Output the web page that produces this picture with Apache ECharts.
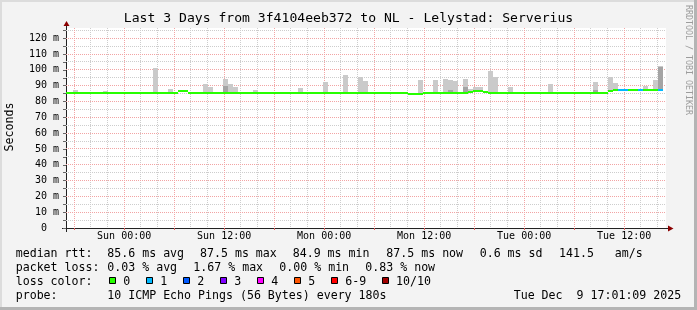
<!DOCTYPE html>
<html><head><meta charset="utf-8">
<script src="https://cdn.jsdelivr.net/npm/echarts@6/dist/echarts.min.js"></script>
<style>html,body{margin:0;padding:0;background:#f3f3f3}#c{width:697px;height:310px}</style>
</head><body><div id="c"></div>
<script>
// ---------------- data ----------------
const TITLE = 'Last 3 Days from 3f4104eeb372 to NL - Lelystad: Serverius';
const Y_NAME = 'Seconds';
const CREDIT = 'RRDTOOL / TOBI OETIKER';
// x axis in hours relative to Sun 00:00
const X_MIN = -6.98, X_MAX = 65.02;
const Y_MIN = 0, Y_MAX = 126.5;           // ms
const SLOT_HOURS = 0.6;                    // one consolidated sample = 36 min
const FIRST_SLOT_CENTER = -7.04;

const X_LABEL_HOURS = [0, 12, 24, 36, 48, 60];
const X_LABEL_TEXTS = ['Sun 00:00', 'Sun 12:00', 'Mon 00:00', 'Mon 12:00', 'Tue 00:00', 'Tue 12:00'];
const X_MAJOR_GRID = [-6, 0, 6, 12, 18, 24, 30, 36, 42, 48, 54, 60];
const X_MINOR_GRID = [-4, -2, 2, 4, 8, 10, 14, 16, 20, 22, 26, 28, 32, 34, 38, 40, 44, 46, 50, 52, 56, 58, 62, 64];
const Y_LABEL_VALUES = [0, 10, 20, 30, 40, 50, 60, 70, 80, 90, 100, 110, 120];
const Y_MAJOR_GRID = [10, 20, 30, 40, 50, 60, 70, 80, 90, 100, 110, 120];
const Y_MINOR_GRID = [5, 15, 25, 35, 45, 55, 65, 75, 85, 95, 105, 115, 125];
const Y_TICKS = [0, 5, 10, 15, 20, 25, 30, 35, 40, 45, 50, 55, 60, 65, 70, 75, 80, 85, 90, 95, 100, 105, 110, 115, 120, 125];

// median rtt per slot (ms)
const medianMs = [
  85.6, 85.6, 85.6, 85.6, 85.6, 85.6, 85.6, 85.6, 85.6, 85.6,
  85.6, 85.6, 85.6, 85.6, 85.6, 85.6, 85.6, 85.6, 85.6, 85.6,
  85.6, 85.6, 85.6, 86.9, 86.9, 85.6, 85.6, 85.6, 85.6, 85.6,
  85.6, 85.6, 85.6, 85.6, 85.6, 85.6, 85.6, 85.6, 85.6, 85.6,
  85.6, 85.6, 85.6, 85.6, 85.6, 85.6, 85.6, 85.6, 85.6, 85.6,
  85.6, 85.6, 85.6, 85.6, 85.6, 85.6, 85.6, 85.6, 85.6, 85.6,
  85.6, 85.6, 85.6, 85.6, 85.6, 85.6, 85.6, 85.6, 85.6, 84.9,
  84.9, 84.9, 85.6, 85.6, 85.6, 85.6, 85.6, 85.6, 85.6, 85.6,
  85.6, 86.2, 86.9, 86.9, 86.2, 85.6, 85.6, 85.6, 85.6, 85.6,
  85.6, 85.6, 85.6, 85.6, 85.6, 85.6, 85.6, 85.6, 85.6, 85.6,
  85.6, 85.6, 85.6, 85.6, 85.6, 85.6, 85.6, 85.6, 85.6, 86.9,
  87.5, 87.5, 87.5, 87.5, 87.5, 87.5, 87.5, 87.5, 87.5, 87.5
];
// outer smoke (max ping) per slot (ms), null = no visible smoke
const smokeMaxMs = [
  null, null, 87.0, null, null, null, null, null, 86.9, null,
  null, null, null, null, null, null, null, null, 101.4, null,
  null, 88.2, null, null, null, null, null, null, 91.3, 89.4,
  null, null, 94.4, 91.3, 89.4, null, null, null, 87.0, null,
  null, null, null, null, null, null, null, 88.8, null, null,
  null, null, 92.5, null, null, null, 97.0, null, null, 95.7,
  93.2, null, null, null, null, null, null, null, null, null,
  null, 93.8, null, null, 93.8, null, 94.4, 93.8, 93.2, null,
  94.4, 88.1, 89.4, 89.4, null, 99.5, 95.7, null, null, 89.4,
  null, null, null, null, null, null, null, 91.3, null, null,
  null, null, null, null, null, null, 92.5, null, null, 95.2,
  92.0, null, null, null, null, null, 89.5, null, 93.3, 102.7
];
// inner (denser) smoke per slot (ms)
const smokeInnerMs = [
  null, null, null, null, null, null, null, null, null, null,
  null, null, null, null, null, null, null, null, null, null,
  null, null, null, null, null, null, null, null, null, null,
  null, null, 90.0, null, null, null, null, null, null, null,
  null, null, null, null, null, null, null, null, null, null,
  null, null, null, null, null, null, null, null, null, null,
  null, null, null, null, null, null, null, null, null, null,
  null, null, null, null, null, null, null, 87.3, null, null,
  89.4, null, null, null, null, null, null, null, null, null,
  null, null, null, null, null, null, null, null, null, null,
  null, null, null, null, null, null, 87.2, null, null, null,
  null, null, null, null, null, null, null, null, null, 101.9
];
// lost pings per slot
const lossCount = [
  0,0,0,0,0,0,0,0,0,0, 0,0,0,0,0,0,0,0,0,0,
  0,0,0,0,0,0,0,0,0,0, 0,0,0,0,0,0,0,0,0,0,
  0,0,0,0,0,0,0,0,0,0, 0,0,0,0,0,0,0,0,0,0,
  0,0,0,0,0,0,0,0,0,0, 0,0,0,0,0,0,0,0,0,0,
  0,0,0,0,0,0,0,0,0,0, 0,0,0,0,0,0,0,0,0,0,
  0,0,0,0,0,0,0,0,0,0, 0,1,1,0,0,1,0,0,0,1
];

const LOSS_LABELS = ['0', '1', '2', '3', '4', '5', '6-9', '10/10'];
const LOSS_COLORS = ['#26ff00', '#00b8ff', '#0059ff', '#7e00ff', '#ff00ff', '#ff5500', '#ff0000', '#a10000'];

const RTT_LABEL = 'median rtt:';
const RTT_STATS = ['85.6 ms avg', '87.5 ms max', '84.9 ms min', '87.5 ms now', '0.6 ms sd', '141.5', 'am/s'];
const LOSS_LABEL = 'packet loss:';
const LOSS_STATS = ['0.03 % avg', '1.67 % max', '0.00 % min', '0.83 % now'];
const COLOR_LABEL = 'loss color:';
const PROBE_LABEL = 'probe:';
const PROBE_TEXT = '10 ICMP Echo Pings (56 Bytes) every 180s';
const STAMP = 'Tue Dec  9 17:01:09 2025';

// ---------------- layout / style ----------------
const MONO = '"DejaVu Sans Mono", monospace';
const LEG_FONT = '11.6px ' + MONO;
const SMOKE_OUTER = '#cacaca';
const SMOKE_INNER = '#a4a4a4';
const MAJOR_GRID_COLOR = '#f2a4a4';
const MINOR_GRID_COLOR = '#cdcdcd';

const slotRows = medianMs.map((m, i) => [
  FIRST_SLOT_CENTER + i * SLOT_HOURS, m,
  smokeMaxMs[i] == null ? m : smokeMaxMs[i],
  smokeInnerMs[i] == null ? m : smokeInnerMs[i],
  lossCount[i]
]);

function renderSlot(params, api) {
  const t = api.value(0), med = api.value(1), top = api.value(2), inner = api.value(3), loss = api.value(4);
  const x0 = Math.round(api.coord([t - SLOT_HOURS / 2, 0])[0]);
  const x1 = Math.round(api.coord([t + SLOT_HOURS / 2, 0])[0]);
  const yMed = api.coord([t, med])[1];
  const medTop = Math.round(yMed - 1);
  const kids = [];
  if (top > med) {
    const yt = Math.round(api.coord([t, top])[1]);
    kids.push({type: 'rect', shape: {x: x0, y: yt, width: x1 - x0, height: medTop - yt + 1}, style: {fill: SMOKE_OUTER}});
  }
  if (inner > med) {
    const yi = Math.round(api.coord([t, inner])[1]);
    kids.push({type: 'rect', shape: {x: x0, y: yi, width: x1 - x0, height: medTop - yi + 1}, style: {fill: SMOKE_INNER}});
  }
  kids.push({type: 'rect', shape: {x: x0, y: medTop, width: x1 - x0, height: 2}, style: {fill: LOSS_COLORS[loss]}});
  return {type: 'group', children: kids};
}

function gridRenderer(vertical, color) {
  return function (params, api) {
    const cs = params.coordSys;
    if (vertical) {
      const x = Math.floor(api.coord([api.value(0), 0])[0]) + 0.5;
      return {type: 'line', silent: true, shape: {x1: x, y1: cs.y, x2: x, y2: cs.y + cs.height},
        style: {stroke: color, lineWidth: 1, lineDash: [1, 1]}};
    }
    const y = Math.floor(api.coord([0, api.value(1)])[1]) + 0.5;
    return {type: 'line', silent: true, shape: {x1: cs.x, y1: y, x2: cs.x + cs.width, y2: y},
      style: {stroke: color, lineWidth: 1, lineDash: [1, 1]}};
  };
}

function gridSeries(values, vertical, color) {
  return {
    type: 'custom', silent: true, z: 1, animation: false,
    data: values.map(v => vertical ? [v, 0] : [0, v]),
    encode: {x: 0, y: 1},
    renderItem: gridRenderer(vertical, color)
  };
}

// legend graphics
const graphics = [];
function txt(x, y, s, font, extra) {
  graphics.push(Object.assign({type: 'text', silent: true,
    style: {x: x, y: y, text: s, font: font, fill: '#000', align: 'left', verticalAlign: 'middle'}}, extra || {}));
}
// frame
graphics.push({type: 'rect', silent: true, shape: {x: 0, y: 0, width: 697, height: 2}, style: {fill: '#dcdcdc'}});
graphics.push({type: 'rect', silent: true, shape: {x: 0, y: 0, width: 2, height: 310}, style: {fill: '#dcdcdc'}});
graphics.push({type: 'rect', silent: true, shape: {x: 694, y: 0, width: 3, height: 310}, style: {fill: '#b4b4b4'}});
graphics.push({type: 'rect', silent: true, shape: {x: 0, y: 307, width: 697, height: 3}, style: {fill: '#b4b4b4'}});

// title, axis name, credit
graphics.push({type: 'text', silent: true, style: {x: 348.5, y: 19, text: TITLE, font: '13.1px ' + MONO, fill: '#000', align: 'center', verticalAlign: 'middle'}});
graphics.push({type: 'text', silent: true, x: 10, y: 127, rotation: Math.PI / 2,
  style: {x: 0, y: 0, text: Y_NAME, font: LEG_FONT, fill: '#000', align: 'center', verticalAlign: 'middle'}});
graphics.push({type: 'text', silent: true, x: 688.5, y: 60, rotation: -Math.PI / 2,
  style: {x: 0, y: 0, text: CREDIT, font: '8.3px ' + MONO, fill: '#9c9c9c', align: 'center', verticalAlign: 'middle'}});

// axis arrows & extensions
graphics.push({type: 'line', silent: true, shape: {x1: 62, y1: 228.5, x2: 669, y2: 228.5}, style: {stroke: '#222', lineWidth: 1}});
graphics.push({type: 'line', silent: true, shape: {x1: 66.5, y1: 232, x2: 66.5, y2: 25}, style: {stroke: '#222', lineWidth: 1}});
graphics.push({type: 'polygon', silent: true, shape: {points: [[63.5, 26], [69.5, 26], [66.5, 21]]}, style: {fill: '#8b0000'}});
graphics.push({type: 'polygon', silent: true, shape: {points: [[668, 225.5], [668, 231.5], [673.5, 228.5]]}, style: {fill: '#8b0000'}});

// legend lines
const RTT_X = [107.3, 200, 292.7, 386.3, 479.7, 559, 614.7];
txt(15.7, 254, RTT_LABEL, LEG_FONT);
RTT_STATS.forEach((s, i) => txt(RTT_X[i], 254, s, LEG_FONT));
const LOSS_X = [107.3, 193.3, 279.3, 365.3];
txt(15.7, 268, LOSS_LABEL, LEG_FONT);
LOSS_STATS.forEach((s, i) => txt(LOSS_X[i], 268, s, LEG_FONT));
txt(15.7, 282, COLOR_LABEL, LEG_FONT);
let bx = 108.7;
LOSS_LABELS.forEach((lab, i) => {
  graphics.push({type: 'rect', silent: true, shape: {x: Math.round(bx) + 0.5, y: 277.5, width: 6, height: 6},
    style: {fill: LOSS_COLORS[i], stroke: '#000', lineWidth: 1}});
  txt(bx + 14.6, 282, lab, LEG_FONT);
  bx += 14.6 + lab.length * 6.98 + 15.4;
});
txt(15.7, 296, PROBE_LABEL, LEG_FONT);
txt(107.3, 296, PROBE_TEXT, LEG_FONT);
txt(513.7, 296, STAMP, LEG_FONT);

const chart = echarts.init(document.getElementById('c'), null, {renderer: 'canvas'});
chart.setOption({
  animation: false,
  backgroundColor: '#f3f3f3',
  grid: {left: 66, top: 28, width: 600, height: 200, show: true, backgroundColor: '#ffffff', borderWidth: 0},
  xAxis: {
    type: 'value', min: X_MIN, max: X_MAX,
    axisLine: {show: true, onZero: false, lineStyle: {color: '#222', width: 1}},
    axisTick: {show: true, customValues: X_MAJOR_GRID, length: 2, lineStyle: {color: '#e06060'}},
    axisLabel: {customValues: X_LABEL_HOURS, formatter: v => X_LABEL_TEXTS[X_LABEL_HOURS.indexOf(v)] || '',
      fontFamily: MONO, fontSize: 10, color: '#000', margin: 3},
    splitLine: {show: false}
  },
  yAxis: {
    type: 'value', min: Y_MIN, max: Y_MAX,
    axisLine: {show: true, onZero: false, lineStyle: {color: '#222', width: 1}},
    axisTick: {show: true, customValues: Y_TICKS, length: 3, lineStyle: {color: '#666'}},
    axisLabel: {customValues: Y_LABEL_VALUES, formatter: v => v === 0 ? '0  ' : v + ' m',
      fontFamily: MONO, fontSize: 10, color: '#000', margin: 7},
    splitLine: {show: false}
  },
  series: [
    gridSeries(X_MINOR_GRID, true, MINOR_GRID_COLOR),
    gridSeries(Y_MINOR_GRID, false, MINOR_GRID_COLOR),
    gridSeries(X_MAJOR_GRID, true, MAJOR_GRID_COLOR),
    gridSeries(Y_MAJOR_GRID, false, MAJOR_GRID_COLOR),
    {
      type: 'custom', name: 'median rtt', z: 3, clip: true, animation: false,
      data: slotRows, encode: {x: 0, y: [1, 2]},
      renderItem: renderSlot
    }
  ],
  graphic: graphics
});
</script></body></html>
